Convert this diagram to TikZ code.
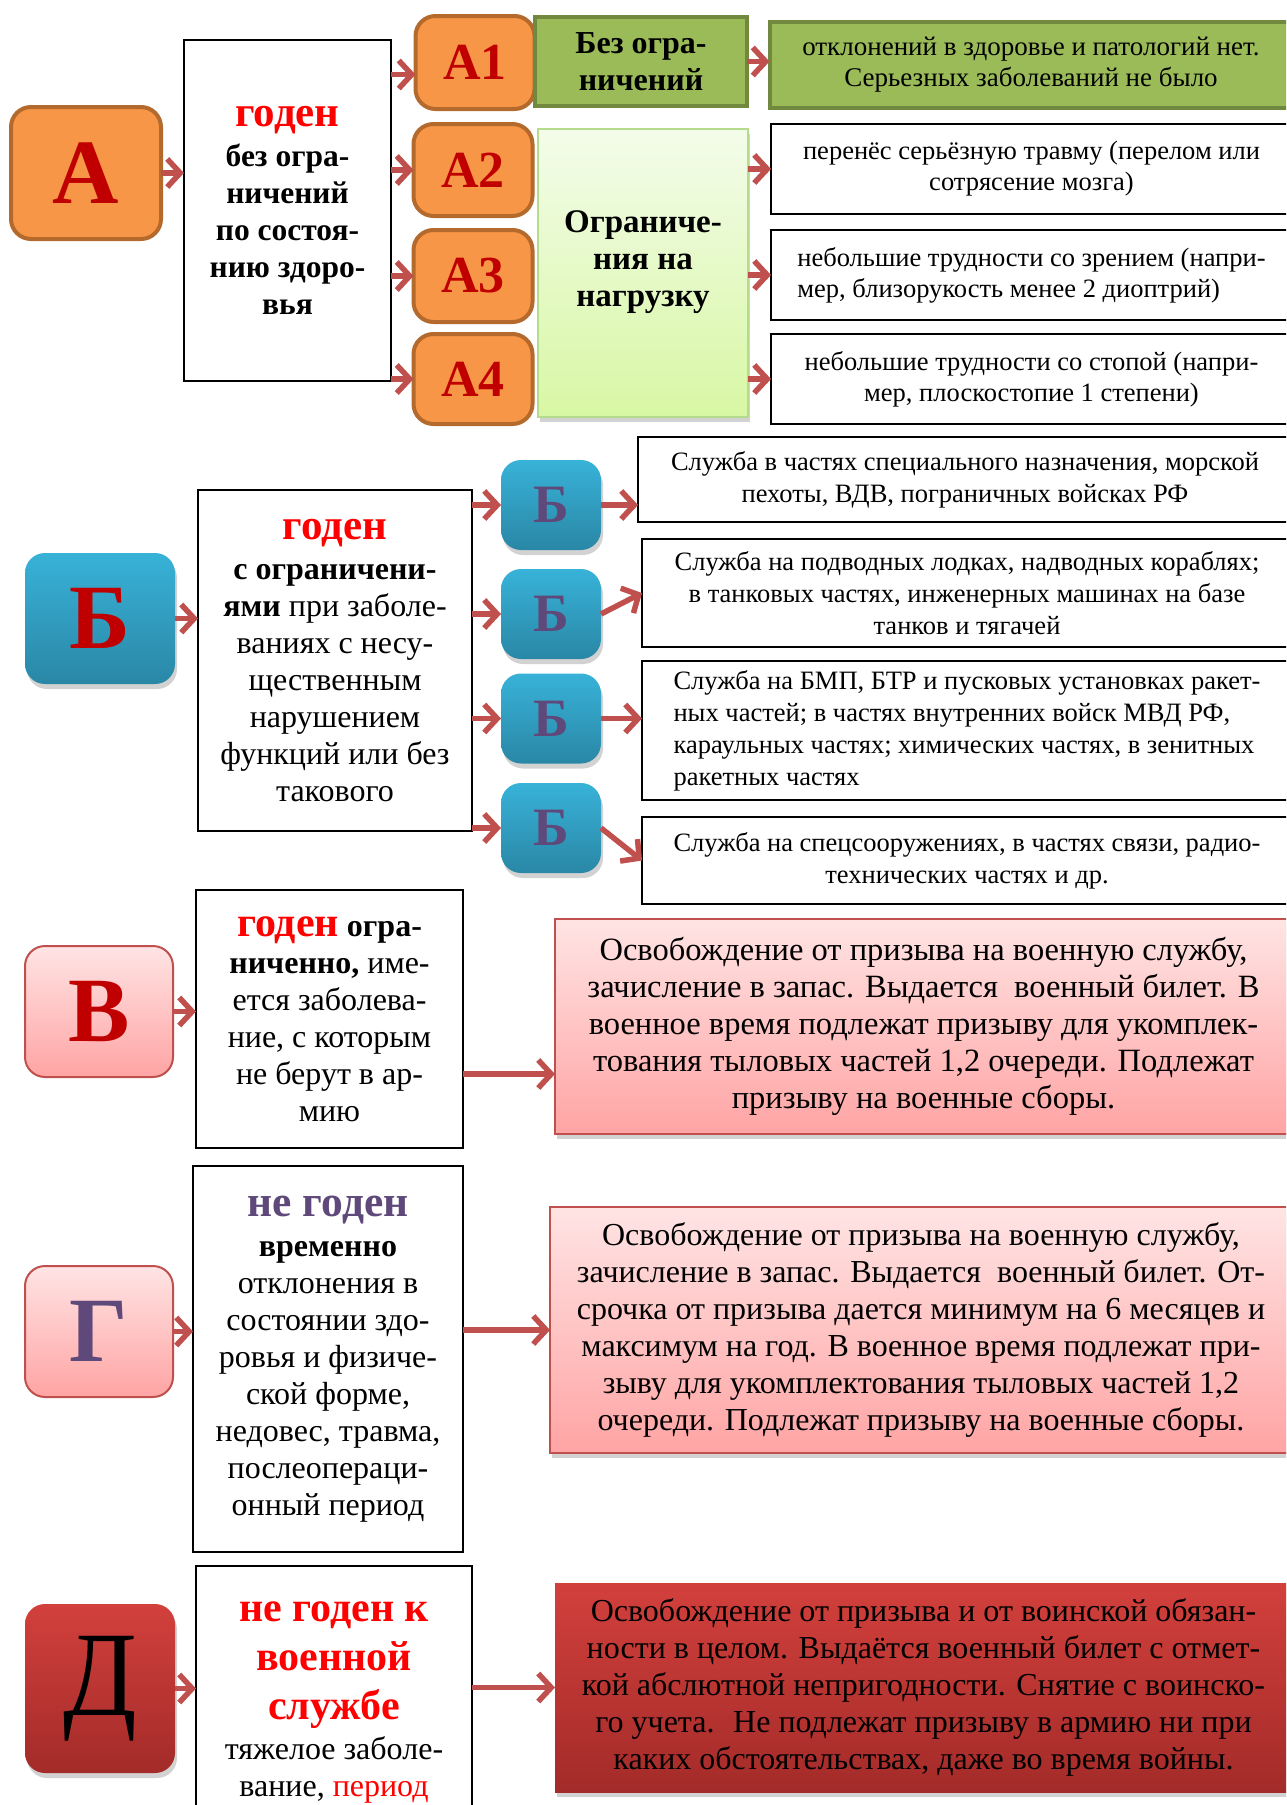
\documentclass[tikz,border=0pt]{standalone}
\usepackage{fontspec}
\setmainfont{Liberation Serif}
\usepackage{graphicx}
\usetikzlibrary{arrows.meta,shadows}

\definecolor{orfill}{HTML}{F79646}
\definecolor{orline}{HTML}{B46A2C}
\definecolor{grfill}{HTML}{9BBB59}
\definecolor{grline}{HTML}{71893F}
\definecolor{lgtop}{HTML}{F3FCEA}
\definecolor{lgbot}{HTML}{D8F7A4}
\definecolor{lgline}{HTML}{B5DC8C}
\definecolor{bltop}{HTML}{38B2D8}
\definecolor{blbot}{HTML}{2A87A6}
\definecolor{pktop}{HTML}{FFE4E4}
\definecolor{pkbot}{HTML}{FFA4A4}
\definecolor{pkline}{HTML}{C0504D}
\definecolor{drtop}{HTML}{D2403C}
\definecolor{drbot}{HTML}{A32B29}
\definecolor{arrred}{HTML}{C0504D}
\definecolor{letred}{HTML}{C00000}
\definecolor{godred}{HTML}{FF0000}
\definecolor{purp}{HTML}{5F497A}

\begin{document}
\begin{tikzpicture}[x=1pt, y=-1pt,
    every node/.style={inner sep=0pt, outer sep=0pt, align=center},
    kat/.style={rounded corners=20pt, line width=4pt},
    bigletter/.style={font=\fontsize{92}{92}\selectfont\bfseries},
    lbox/.style={draw=black, line width=2pt, fill=white},
    txt/.style={font=\fontsize{32}{37}\selectfont},
    stxt/.style={font=\fontsize{26.5}{32}\selectfont},
    sh/.style={drop shadow={shadow xshift=2pt, shadow yshift=-5pt, opacity=0.35}},
    arr/.style={draw=arrred, line width=5.5pt, -{Straight Barb[length=13pt, width=28pt]}}]

    \clip (0,0) rectangle (1286,1805);
    \fill[white] (0,0) rectangle (1286,1805);

    % A
    \node[kat, draw=orline, fill=orfill, bigletter, text=letred, minimum width=150, minimum height=132] (A) at (86,173) {А};
    \node[lbox, minimum width=207, minimum height=341, font=\fontsize{31.5}{37}\selectfont\bfseries] (ga) at (287.5,210) {{\fontsize{43}{44}\selectfont\color{godred}годен}\\[3pt]без огра-\\ничений\\по состоя-\\нию здоро-\\вья};
    \node[kat, draw=orline, fill=orfill, text=letred, font=\fontsize{52}{52}\selectfont\bfseries, minimum width=119, minimum height=93] (a1) at (475,62.5) {А1};
    \node[kat, draw=orline, fill=orfill, text=letred, font=\fontsize{52}{52}\selectfont\bfseries, minimum width=119, minimum height=92] (a2) at (473,170) {А2};
    \node[kat, draw=orline, fill=orfill, text=letred, font=\fontsize{52}{52}\selectfont\bfseries, minimum width=119, minimum height=92] (a3) at (473,276) {А3};
    \node[kat, draw=orline, fill=orfill, text=letred, font=\fontsize{52}{52}\selectfont\bfseries, minimum width=119, minimum height=90] (a4) at (473,379) {А4};
    \node[draw=grline, line width=4pt, fill=grfill, minimum width=212, minimum height=89, font=\fontsize{32}{37}\selectfont\bfseries] (g1) at (641,61.5) {Без огра-\\ничений};
    \node[draw=lgline, line width=2pt, top color=lgtop, bottom color=lgbot, sh, minimum width=210, minimum height=288, font=\fontsize{33}{37}\selectfont\bfseries] (ogr) at (643,273) {Ограниче-\\ния на\\нагрузку\\[-9pt]};
    \node[draw=grline, line width=4pt, fill=grfill, minimum width=523, minimum height=86, font=\fontsize{27}{31}\selectfont] (t1) at (1031,65) {отклонений в здоровье и патологий нет.\\Серьезных заболеваний не было};
    \node[lbox, minimum width=521, minimum height=90, font=\fontsize{26.5}{31}\selectfont] (t2) at (1031.5,169) {перенёс серьёзную травму (перелом или\\сотрясение мозга)};
    \node[lbox, minimum width=521, minimum height=90, font=\fontsize{26.5}{31}\selectfont, align=left] (t3) at (1031.5,275) {небольшие трудности со зрением (напри-\\мер, близорукость менее 2 диоптрий)};
    \node[lbox, minimum width=521, minimum height=90, font=\fontsize{26.5}{31}\selectfont] (t4) at (1031.5,379) {небольшие трудности со стопой (напри-\\мер, плоскостопие 1 степени)};

    \draw[arr] (A.east) -- (A.east -| ga.west);
    \draw[arr] ([yshift=-12pt]ga.east |- a1.west) -- ([yshift=-12pt]a1.west);
    \draw[arr] (ga.east |- a2.west) -- (a2.west);
    \draw[arr] (ga.east |- a3.west) -- (a3.west);
    \draw[arr] (ga.east |- a4.west) -- (a4.west);
    \draw[arr] (g1.east) -- (g1.east -| t1.west);
    \draw[arr] (ogr.east |- t2.west) -- (t2.west);
    \draw[arr] (ogr.east |- t3.west) -- (t3.west);
    \draw[arr] (ogr.east |- t4.west) -- (t4.west);

    % Б
    \node[kat, draw=none, top color=bltop, bottom color=blbot, sh, bigletter, text=letred, minimum width=150, minimum height=131] (B) at (100,618.5) {Б};
    \node[lbox, txt, minimum width=274, minimum height=341] (gb) at (335,660.5) {{\fontsize{43}{46}\selectfont\bfseries\color{godred}годен}\\[3pt]\textbf{с ограничени-}\\\textbf{ями} при заболе-\\ваниях с несу-\\щественным\\нарушением\\функций или без\\такового};
    \node[kat, draw=none, top color=bltop, bottom color=blbot, sh, text=purp, font=\fontsize{54}{54}\selectfont\bfseries, minimum width=100, minimum height=90] (b1) at (551,505) {Б};
    \node[kat, draw=none, top color=bltop, bottom color=blbot, sh, text=purp, font=\fontsize{54}{54}\selectfont\bfseries, minimum width=100, minimum height=90] (b2) at (551,614) {Б};
    \node[kat, draw=none, top color=bltop, bottom color=blbot, sh, text=purp, font=\fontsize{54}{54}\selectfont\bfseries, minimum width=100, minimum height=90] (b3) at (551,718.5) {Б};
    \node[kat, draw=none, top color=bltop, bottom color=blbot, sh, text=purp, font=\fontsize{54}{54}\selectfont\bfseries, minimum width=100, minimum height=90] (b4) at (551,828) {Б};
    \node[lbox, stxt, minimum width=654, minimum height=85] (s1) at (965,479.5) {Служба в частях специального назначения, морской\\пехоты, ВДВ, пограничных войсках РФ};
    \node[lbox, stxt, minimum width=650, minimum height=108] (s2) at (967,593) {Служба на подводных лодках, надводных кораблях;\\в танковых частях, инженерных машинах на базе\\танков и тягачей};
    \node[lbox, stxt, align=left, minimum width=650, minimum height=139] (s3) at (967,730.5) {Служба на БМП, БТР и пусковых установках ракет-\\ных частей; в частях внутренних войск МВД РФ,\\караульных частях; химических частях, в зенитных\\ракетных частях};
    \node[lbox, stxt, minimum width=650, minimum height=87] (s4) at (967,860.5) {Служба на спецсооружениях, в частях связи, радио-\\технических частях и др.};

    \draw[arr] (B.east) -- (B.east -| gb.west);
    \draw[arr] (gb.east |- b1.west) -- (b1.west);
    \draw[arr] (gb.east |- b2.west) -- (b2.west);
    \draw[arr] (gb.east |- b3.west) -- (b3.west);
    \draw[arr] (gb.east |- b4.west) -- (b4.west);
    \draw[arr] (b1.east) -- (b1.east -| s1.west);
    \draw[arr] (b2.east) -- (s2.west);
    \draw[arr] (b3.east) -- (b3.east -| s3.west);
    \draw[arr] (b4.east) -- (s4.west);

    % В
    \node[kat, draw=pkline, line width=2pt, top color=pktop, bottom color=pkbot, bigletter, text=letred, minimum width=148, minimum height=131] (V) at (99,1011.5) {В};
    \node[lbox, txt, minimum width=267, minimum height=258] (gv) at (329.5,1019) {{\fontsize{42}{44}\selectfont\bfseries\color{godred}годен} \textbf{огра-}\\\textbf{ниченно,} име-\\ется заболева-\\ние, с которым\\не берут в ар-\\мию};
    \node[draw=pkline, line width=2pt, top color=pktop, bottom color=pkbot, sh, font=\fontsize{32.5}{37}\selectfont, minimum width=737, minimum height=215] (dv) at (923.5,1026.5) {Освобождение от призыва на военную службу,\\зачисление в запас. Выдается \ военный билет. В\\военное время подлежат призыву для укомплек-\\тования тыловых частей 1,2 очереди. Подлежат\\призыву на военные сборы.};

    \draw[arr] (V.east) -- (V.east -| gv.west);
    \draw[arr] ([yshift=-55pt]gv.east) -- ([yshift=-55pt]gv.east -| dv.west);

    % Г
    \node[kat, draw=pkline, line width=2pt, top color=pktop, bottom color=pkbot, bigletter, text=purp, minimum width=148, minimum height=131] (G) at (99,1331.5) {Г};
    \node[lbox, txt, minimum width=270, minimum height=386] (gg) at (328,1359) {{\fontsize{43.5}{46}\selectfont\bfseries\color{purp}не годен}\\[3pt]\textbf{временно}\\отклонения в\\состоянии здо-\\ровья и физиче-\\ской форме,\\недовес, травма,\\послеопераци-\\онный период};
    \node[draw=pkline, line width=2pt, top color=pktop, bottom color=pkbot, sh, txt, minimum width=742, minimum height=246] (dg) at (921,1330) {Освобождение от призыва на военную службу,\\зачисление в запас. Выдается \ военный билет. От-\\срочка от призыва дается минимум на 6 месяцев и\\максимум на год. В военное время подлежат при-\\зыву для укомплектования тыловых частей 1,2\\очереди. Подлежат призыву на военные сборы.};

    \draw[arr] (G.east) -- (G.east -| gg.west);
    \draw[arr] (dg.west -| gg.east) -- (dg.west);

    % Д
    \node[kat, draw=none, top color=drtop, bottom color=drbot, sh, text=black, font=\fontsize{108}{108}\selectfont, minimum width=150, minimum height=169] (D) at (100,1688.5) {\scalebox{1}[1.12]{Д}};
    \node[lbox, txt, minimum width=276, minimum height=272] (gd) at (334,1702) {{\fontsize{42}{49}\selectfont\bfseries\color{godred}не годен к}\\[12pt]{\fontsize{42}{49}\selectfont\bfseries\color{godred}военной}\\[12pt]{\fontsize{42}{49}\selectfont\bfseries\color{godred}службе}\\[3pt]тяжелое заболе-\\вание, {\color{godred}период}};
    \node[draw=none, top color=drtop, bottom color=drbot, sh, txt, minimum width=737, minimum height=209] (dd) at (923.5,1687.5) {Освобождение от призыва и от воинской обязан-\\ности в целом. Выдаётся военный билет с отмет-\\кой абслютной непригодности. Снятие с воинско-\\го учета. \ Не подлежат призыву в армию ни при\\каких обстоятельствах, даже во время войны.};

    \draw[arr] (D.east) -- (D.east -| gd.west);
    \draw[arr] (dd.west -| gd.east) -- (dd.west);
\end{tikzpicture}
\end{document}
